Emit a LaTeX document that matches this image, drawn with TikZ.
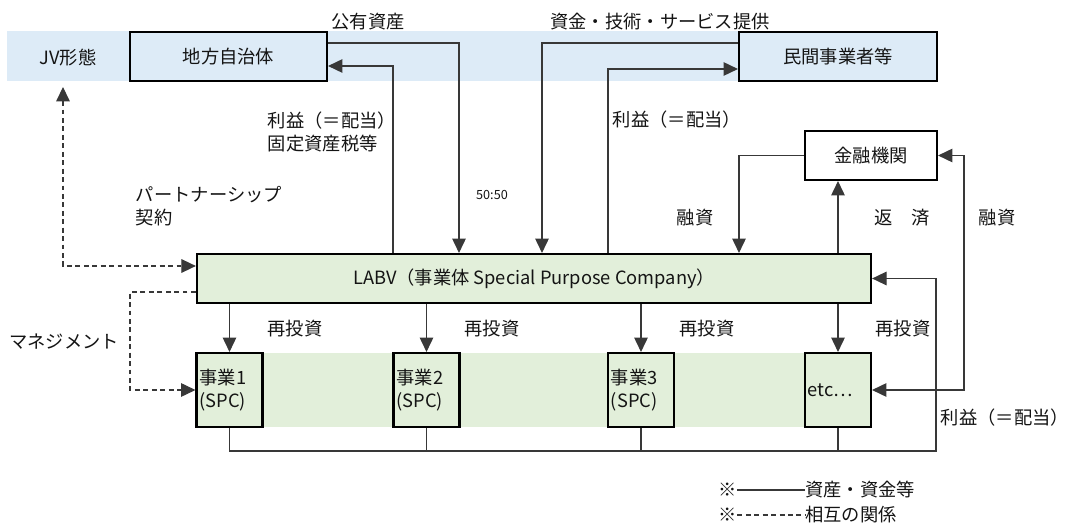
\documentclass[tikz,border=0pt]{standalone}
\usepackage{fontspec}
\setmainfont{Noto Sans CJK JP}
\usetikzlibrary{arrows.meta}

\definecolor{bandblue}{HTML}{DDEBF7}
\definecolor{bandgreen}{HTML}{E2EFDA}
\definecolor{linegray}{HTML}{383838}

\tikzset{
    >={Triangle[length=3.6mm,width=3.4mm]},
    box/.style={draw=black, line width=1.5pt, inner sep=0pt, minimum height=1.225cm},
    spcbox/.style={box, fill=bandgreen, minimum height=1.85cm, text width=1.5cm, inner xsep=0.075cm, align=left},
    line/.style={draw=linegray, line width=0.75pt},
    flow/.style={line, ->},
    relation/.style={line, dash pattern=on 3.5pt off 2.5pt},
    legend/.style={inner sep=0pt}
}

\begin{document}
\begin{tikzpicture}[x=0.025cm, y=-0.025cm, font=\fontsize{13}{16}\selectfont, text=black!92]

    \useasboundingbox (0,0) rectangle (1080,524);

    % bands
    \fill[bandblue] (7,31) rectangle (937,81);
    \fill[bandgreen] (197,353) rectangle (871,427);

    % boxes
    \node[box, fill=bandblue, minimum width=4.925cm] (jichi) at (228.5,56.5) {地方自治体};
    \node[box, fill=bandblue, minimum width=4.95cm] (minkan) at (838,56.5) {民間事業者等};
    \node[box, fill=white, minimum width=3.3cm] (kinyu) at (871,155.5) {金融機関};
    \node[box, fill=bandgreen, minimum width=16.85cm] (labv) at (534,278.5) {LABV（事業体 Special Purpose Company）};

    \node[spcbox] (spc1) at (229.5,390) {事業1\\(SPC)};
    \node[spcbox] (spc2) at (426.5,390) {事業2\\(SPC)};
    \node[spcbox] (spc3) at (641,390) {事業3\\(SPC)};
    \node[spcbox] (etc) at (838,390) {etc…};

    \node (jv) at (68,58) {JV形態};

    % bend points
    \coordinate (a1) at (459,43);
    \coordinate (a2) at (393,66);
    \coordinate (b1) at (542,43);
    \coordinate (b2) at (608,69);
    \coordinate (c1) at (739,0);
    \coordinate (c2) at (838,0);
    \coordinate (d1) at (964,0);
    \coordinate (e1) at (936,451);
    \coordinate (f1) at (63,266);
    \coordinate (g1) at (130,292);
    \coordinate (jvtip) at (63,87);

    % assets and money
    \draw[flow] (jichi.east |- a1) -| (labv.north -| a1);
    \draw[flow] (labv.north -| a2) |- (jichi.east |- a2);
    \draw[flow] (minkan.west |- b1) -| (labv.north -| b1);
    \draw[flow] (labv.north -| b2) |- (minkan.west |- b2);
    \draw[flow] (kinyu.west) -| (labv.north -| c1);
    \draw[flow] (labv.north -| c2) -- (kinyu.south -| c2);
    \draw[line, <->] (kinyu.east) -| (d1 |- etc.east) -- (etc.east);

    \foreach \s in {spc1,spc2,spc3,etc}
        \draw[flow] (labv.south -| \s.north) -- (\s.north);

    \draw[flow] (spc1.south) |- (e1) |- (labv.east);
    \foreach \s in {spc2,spc3,etc}
        \draw[line] (\s.south) -- (\s.south |- e1);

    % relations
    \draw[relation, <->] (jvtip) |- (labv.west |- f1);
    \draw[relation, ->] (labv.west |- g1) -| (spc1.west -| g1) -- (spc1.west);

    % labels
    \node (kouyuu) at (368,22) {公有資産};
    \node (shikin) at (660,22) {資金・技術・サービス提供};
    \node[anchor=west, align=left] (rieki1) at (263,132) {利益（＝配当）\\固定資産税等};
    \node[font=\fontsize{9}{11}\selectfont] (ratio) at (492,195) {50:50};
    \node[anchor=west] (rieki2) at (608,120) {利益（＝配当）};
    \node (yuushi1) at (695,218) {融資};
    \node (hensai) at (902,218) {返　済};
    \node (yuushi2) at (997,218) {融資};
    \node[anchor=west, align=left] (partner) at (131,206) {パートナーシップ\\契約};
    \node[anchor=east] (manage) at (124,342) {マネジメント};
    \foreach \x/\n in {295/r1,492/r2,707/r3,903/r4}
        \node (\n) at (\x,329) {再投資};
    \node[anchor=west] (rieki3) at (936,418) {利益（＝配当）};

    % legend
    \node[legend] (star1) at (728,490) {※};
    \node[legend, anchor=west] (leg1) at (805,490) {資産・資金等};
    \draw[line] (star1.east) -- (leg1.west);
    \node[legend] (star2) at (728,515) {※};
    \node[legend, anchor=west] (leg2) at (805,515) {相互の関係};
    \draw[relation] (star2.east) -- (leg2.west);

\end{tikzpicture}
\end{document}
